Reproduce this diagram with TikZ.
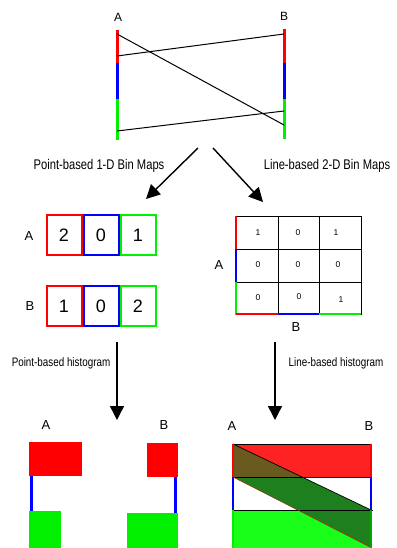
\documentclass[tikz,border=0pt]{standalone}
\usepackage{fontspec}
\setmainfont{Liberation Sans}
\newfontfamily\narrowsf[FakeStretch=0.8]{Liberation Sans}
\usepackage{tikz}
\usetikzlibrary{arrows.meta}
\definecolor{pred}{RGB}{255,0,0}
\definecolor{pblue}{RGB}{0,0,255}
\definecolor{pgreen}{RGB}{0,240,0}
\definecolor{hred}{RGB}{255,34,34}
\definecolor{hgreen}{RGB}{26,255,26}
\definecolor{dgreen}{RGB}{30,127,30}
\definecolor{olive}{RGB}{107,90,31}

\begin{document}
\begin{tikzpicture}[x=1pt,y=-1pt,line width=1pt,
  lab/.style={font=\fontsize{13}{13}\selectfont},
  captext/.style={font=\narrowsf\fontsize{14}{14}\selectfont},
  seg/.style={line width=3pt},
  bin/.style={draw=#1,line width=2pt,minimum width=35pt,minimum height=40pt,
    inner sep=0pt,font=\fontsize{18}{18}\selectfont},
  cell/.style={inner sep=0pt,font=\fontsize{8.5}{8.5}\selectfont},
  bigarrow/.style={line width=1.4pt,-{Triangle[width=14pt,length=14pt]}}]
\useasboundingbox (0,0) rectangle (396,548);

% lines between A and B
\node[lab,font=\fontsize{12}{12}\selectfont] (ta) at (118,17) {A};
\node[lab,font=\fontsize{12}{12}\selectfont] (tb) at (284,16) {B};
\draw[seg,pred] (117,30) -- (117,63);
\draw[seg,pblue] (117,63) -- (117,99);
\draw[seg,pgreen] (117,99) -- (117,140);
\draw[seg,pred] (284,29) -- (284,63);
\draw[seg,pblue] (284,63) -- (284,99);
\draw[seg,pgreen] (284,99) -- (284,139);
\draw (117,34) -- (284,125);
\draw (117,56) -- (284,34);
\draw (117,131) -- (284,111);

\coordinate (s1) at (198,148);
\coordinate (e1) at (146,199);
\coordinate (s2) at (213,148);
\coordinate (e2) at (263,202);
\draw[bigarrow] (s1) -- (e1);
\draw[bigarrow] (s2) -- (e2);
\node[captext] (lpt) at (99,166) {Point-based 1-D Bin Maps};
\node[captext] (lln) at (327,166) {Line-based 2-D Bin Maps};

% 1-D bin maps
\node[lab] (ra) at (29,236) {A};
\node[bin=pred] (a1) at (64,235) {2};
\node[bin=pblue] (a2) at (101,235) {0};
\node[bin=pgreen] (a3) at (138,235) {1};
\node[lab] (rb) at (30,306) {B};
\node[bin=pred] (b1) at (64,306) {1};
\node[bin=pblue] (b2) at (101,306) {0};
\node[bin=pgreen] (b3) at (138,306) {2};

% 2-D bin map
\draw (236,216) rectangle (361,314);
\draw (278,216) -- (278,314) (319,216) -- (319,314);
\draw (236,249) -- (361,249) (236,282) -- (361,282);
\draw[line width=2pt,pred] (236,216) -- (236,249);
\draw[line width=2pt,pblue] (236,249) -- (236,282);
\draw[line width=2pt,pgreen] (236,282) -- (236,315);
\draw[line width=2pt,pred] (236,314) -- (278,314);
\draw[line width=2pt,pblue] (278,314) -- (319,314);
\draw[line width=2pt,pgreen] (319,314) -- (361,314);
\node[cell] (c11) at (258,233) {1};
\node[cell] (c12) at (298,233) {0};
\node[cell] (c13) at (336,233) {1};
\node[cell] (c21) at (258,265) {0};
\node[cell] (c22) at (298,265) {0};
\node[cell] (c23) at (338,265) {0};
\node[cell] (c31) at (258,298) {0};
\node[cell] (c32) at (299,297) {0};
\node[cell] (c33) at (341,300) {1};
\node[lab] (ga) at (219,265) {A};
\node[lab] (gb) at (296,327) {B};

% histograms
\coordinate (s3) at (117,342);
\coordinate (e3) at (117,420);
\coordinate (s4) at (275,342);
\coordinate (e4) at (275,420);
\draw[bigarrow] (s3) -- (e3);
\draw[bigarrow] (s4) -- (e4);
\node[captext,font=\narrowsf\fontsize{12.3}{12.3}\selectfont] (hpt) at (61,363) {Point-based histogram};
\node[captext,font=\narrowsf\fontsize{12.3}{12.3}\selectfont] (hln) at (336,363) {Line-based histogram};

% point-based
\node[lab] (pa) at (46,425) {A};
\fill[pred] (29,442) rectangle (82,476);
\draw[seg,pblue] (31,476) -- (31,511);
\fill[pgreen] (29,511) rectangle (61,548);
\node[lab] (pb) at (164,425) {B};
\fill[pred] (147,443) rectangle (178,477);
\draw[seg,pblue] (175,477) -- (175,513);
\fill[pgreen] (127,513) rectangle (178,548);

% line-based
\node[lab] (la) at (232,426) {A};
\node[lab] (lb) at (369,426) {B};
\fill[hgreen] (233,511) rectangle (371,548);
\fill[hred] (233,444) rectangle (371,477);
\fill[dgreen] (233,444) -- (371,510) -- (371,548) -- (233,477) -- cycle;
\fill[olive] (233,444) -- (302,477) -- (233,477) -- cycle;
\draw[line width=0.9pt] (233,444) -- (371,444);
\draw[line width=0.9pt] (233,477) -- (371,477);
\draw[line width=0.9pt] (233,510) -- (373,510);
\draw[line width=0.7pt] (233,444) -- (371,510);
\draw[line width=0.6pt,olive!60!red] (233,477) -- (371,547);
\draw[line width=2.5pt,pred] (233,444) -- (233,477);
\draw[line width=2.5pt,pblue] (233,477) -- (233,510);
\draw[line width=2.5pt,pgreen] (233,510) -- (233,548);
\draw[line width=2.5pt,pred] (371,444) -- (371,477);
\draw[line width=2.5pt,pblue] (371,477) -- (371,510);
\draw[line width=2.5pt,pgreen!70!black] (371,510) -- (371,548);
\end{tikzpicture}
\end{document}
